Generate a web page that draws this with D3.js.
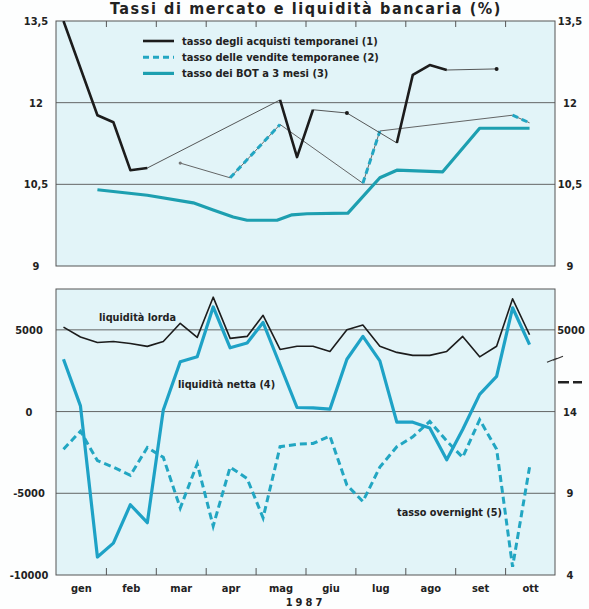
<!DOCTYPE html>
<html><head><meta charset="utf-8">
<script src="https://cdn.jsdelivr.net/npm/d3@7"></script>
<style>
body{margin:0;background:#fdfefe;}
svg{display:block;}
text{font-family:"Liberation Sans Narrow","Arial Narrow","DejaVu Sans Condensed",sans-serif;font-weight:bold;fill:#222;}
</style></head><body>
<svg id="c" width="589" height="609"></svg>
<script>
// ---------- DATA ----------
const title = "Tassi di mercato e liquidità bancaria (%)";
const months = ["gen","feb","mar","apr","mag","giu","lug","ago","set","ott"];
const yearLabel = "1987";

// top panel (rates, %)
const topTicks = [9, 10.5, 12, 13.5];
const topTickLabels = ["9", "10,5", "12", "13,5"];
// x = position in months (0 = 1 Jan), runs = consecutive observations
const acquistiRuns = [
  [[0.15,13.5],[0.83,11.77],[1.15,11.64],[1.49,10.76],[1.83,10.80]],
  [[4.49,12.05],[4.83,11.0],[5.15,11.87]],
  [[5.83,11.81]],
  [[6.83,11.26],[7.15,12.51],[7.49,12.69],[7.83,12.60]],
  [[8.83,12.62]]
];
const venditeRuns = [
  [[2.49,10.89]],
  [[3.49,10.62],[4.49,11.60]],
  [[6.15,10.52],[6.49,11.48]],
  [[9.15,11.77],[9.49,11.63]]
];
const botX = [0.83,1.83,2.75,3.15,3.55,3.83,4.43,4.73,5.03,5.85,6.49,6.83,7.75,8.49,9.49];
const botV = [10.40,10.30,10.16,10.03,9.90,9.84,9.84,9.94,9.96,9.97,10.62,10.76,10.73,11.53,11.53];
const legendLabels = ["tasso degli acquisti temporanei (1)","tasso delle vendite temporanee (2)","tasso dei BOT a 3 mesi (3)"];

// bottom panel (liquidity, billions of lire; overnight rate %)
const periods = [0.15,0.49,0.83,1.15,1.49,1.83,2.15,2.49,2.83,3.15,3.49,3.83,4.15,4.49,4.83,5.15,5.49,5.83,6.15,6.49,6.83,7.15,7.49,7.83,8.15,8.49,8.83,9.15,9.49];
const lorda = [5170,4560,4230,4290,4170,3990,4290,5400,4540,7000,4480,4600,5890,3800,4000,4000,3680,5000,5300,4000,3620,3440,3440,3680,4600,3350,4000,6900,4700];
const netta = [3200,350,-8900,-8050,-5700,-6800,100,3050,3350,6400,3900,4200,5450,2850,250,230,150,3200,4600,3100,-650,-650,-1000,-2950,-1100,1050,2150,6350,4100];
const overnight = [11.7,12.8,11.0,10.6,10.1,11.8,11.2,8.1,10.8,7.0,10.6,9.9,7.5,11.85,12.0,12.05,12.5,9.5,8.5,10.6,11.85,12.45,13.4,12.2,11.2,13.5,11.7,4.5,10.6];
const botLeftTicks = [-10000,-5000,0,5000];
const botLeftLabels = ["-10000","-5000","0","5000"];
const botRightRateTicks = [4,9,14];
const botRightRateLabels = ["4","9","14"];
const annotations = ["liquidità lorda","liquidità netta (4)","tasso overnight (5)"];

// ---------- STYLE ----------
const C = {bg:"#e2f4f8", frame:"#555", grid:"#555", black:"#1c1c1c", thin:"#444",
           tealTop:"#1d9fb0", tealBot:"#1ea2c6", dash:"#22a6c2"};

const svg = d3.select("#c");
const L = 56, R = 555;
const x = d3.scaleLinear().domain([0,10]).range([L,R]);
const yT = d3.scaleLinear().domain([9,13.5]).range([266,21]);
const yB = d3.scaleLinear().domain([-10000,7500]).range([575,289]);
const yRate = d3.scaleLinear().domain([4,21.5]).range([575,289]);

// title
svg.append("text").attr("x",306).attr("y",14).attr("text-anchor","middle")
  .style("font-size","16px").style("letter-spacing","1.6px").text(title);

// panels
function panel(y0,y1,id){
  svg.append("rect").attr("x",L).attr("y",y0).attr("width",R-L).attr("height",y1-y0)
    .attr("fill",C.bg).attr("stroke",C.frame).attr("stroke-width",1);
  svg.append("clipPath").attr("id",id).append("rect")
    .attr("x",L).attr("y",y0).attr("width",R-L).attr("height",y1-y0);
}
panel(21,266,"clipT");
panel(289,575,"clipB");

// gridlines
const gT = svg.append("g");
gT.selectAll("line").data([10.5,12]).join("line")
  .attr("x1",L).attr("x2",R).attr("y1",d=>yT(d)).attr("y2",d=>yT(d))
  .attr("stroke",C.grid).attr("stroke-width",0.9);
const gB = svg.append("g");
gB.selectAll("line").data([-5000,0,5000]).join("line")
  .attr("x1",L).attr("x2",R).attr("y1",d=>yB(d)).attr("y2",d=>yB(d))
  .attr("stroke",C.grid).attr("stroke-width",0.9);

// month ticks
const monthBounds = d3.range(1,10);
svg.append("g").attr("transform",`translate(0,${yT(13.5)})`)
  .call(d3.axisBottom(x).tickValues(monthBounds).tickSize(6).tickFormat(""))
  .call(g=>{g.select(".domain").remove(); g.selectAll("line").attr("stroke",C.frame);});
svg.append("g").attr("transform",`translate(0,${yB(-10000)})`)
  .call(d3.axisTop(x).tickValues(monthBounds).tickSize(7).tickFormat(""))
  .call(g=>{g.select(".domain").remove(); g.selectAll("line").attr("stroke",C.frame);});
// month labels
svg.append("g").attr("transform",`translate(0,${yB(-10000)})`)
  .call(d3.axisBottom(x).tickValues(d3.range(10).map(i=>i+0.5)).tickSize(0).tickPadding(9)
     .tickFormat((d,i)=>months[i]))
  .call(g=>{g.select(".domain").remove(); g.selectAll("text").style("font-size","11px").attr("fill","#222").style("font-family",null);});
svg.append("text").attr("x",x(5)).attr("y",606).attr("text-anchor","middle")
  .style("font-size","11px").style("letter-spacing","3px").text(yearLabel);

// y axes labels
function styleAxis(g,dx,fs){
  g.select(".domain").remove();
  g.selectAll("line").remove();
  g.selectAll("text").attr("text-anchor","middle").attr("x",dx)
   .style("font-size",fs).attr("fill","#222").style("font-family",null);
}
svg.append("g").attr("transform",`translate(${L},0)`)
  .call(d3.axisLeft(yT).tickValues(topTicks).tickFormat((d,i)=>topTickLabels[i]))
  .call(g=>styleAxis(g,-20,"11px"));
svg.append("g").attr("transform",`translate(${R+1},0)`)
  .call(d3.axisRight(yT).tickValues(topTicks).tickFormat((d,i)=>topTickLabels[i]))
  .call(g=>styleAxis(g,14,"11px"));
svg.append("g").attr("transform",`translate(${L},0)`)
  .call(d3.axisLeft(yB).tickValues(botLeftTicks).tickFormat((d,i)=>botLeftLabels[i]))
  .call(g=>styleAxis(g,-27,"11px"));
svg.append("g").attr("transform",`translate(${R+1},0)`)
  .call(d3.axisRight(yB).tickValues([5000]).tickFormat(d=>String(d)))
  .call(g=>styleAxis(g,15,"11px"));
svg.append("g").attr("transform",`translate(${R+1},0)`)
  .call(d3.axisRight(yRate).tickValues(botRightRateTicks).tickFormat((d,i)=>botRightRateLabels[i]))
  .call(g=>styleAxis(g,14,"11px"));

// scale break mark and dashed key on right
const brkY = yB(3200);
svg.append("path").attr("d",`M${R-8},${brkY+3} L${R+2},${brkY-1} M${R-2},${brkY+1} L${R+8},${brkY-3}`)
  .attr("stroke","#333").attr("stroke-width",1.2).attr("fill","none");
svg.append("line").attr("x1",R+3).attr("x2",R+27).attr("y1",yRate(15.8)).attr("y2",yRate(15.8))
  .attr("stroke","#222").attr("stroke-width",2.5).attr("stroke-dasharray","11,4");

// ---------- TOP LINES ----------
const lineT = d3.line().x(d=>x(d[0])).y(d=>yT(d[1]));
const gTop = svg.append("g").attr("clip-path","url(#clipT)");
// BOT
gTop.append("path").datum(botX.map((v,i)=>[v,botV[i]])).attr("d",lineT)
  .attr("fill","none").attr("stroke",C.tealTop).attr("stroke-width",3.2).attr("stroke-linejoin","round");
// vendite: thin connectors + dashed runs
gTop.append("path").datum(venditeRuns.flat()).attr("d",lineT)
  .attr("fill","none").attr("stroke","#555").attr("stroke-width",0.9);
venditeRuns.filter(r=>r.length>1).forEach(r=>{
  gTop.append("path").datum(r).attr("d",lineT).attr("fill","none")
    .attr("stroke",C.dash).attr("stroke-width",3).attr("stroke-dasharray","6,4");
});
venditeRuns.filter(r=>r.length===1).forEach(r=>{
  gTop.append("circle").attr("cx",x(r[0][0])).attr("cy",yT(r[0][1])).attr("r",1.6).attr("fill","#777");
});
// acquisti: thin connectors + thick runs
gTop.append("path").datum(acquistiRuns.flat()).attr("d",lineT)
  .attr("fill","none").attr("stroke",C.thin).attr("stroke-width",0.9);
acquistiRuns.filter(r=>r.length>1).forEach(r=>{
  gTop.append("path").datum(r).attr("d",lineT).attr("fill","none")
    .attr("stroke",C.black).attr("stroke-width",2.6).attr("stroke-linejoin","round");
});
acquistiRuns.filter(r=>r.length===1).forEach(r=>{
  gTop.append("circle").attr("cx",x(r[0][0])).attr("cy",yT(r[0][1])).attr("r",2).attr("fill",C.black);
});

// legend
const lg = svg.append("g");
const legStyles = [
  {stroke:C.black,w:2.6,dash:null},
  {stroke:C.dash,w:3,dash:"6,4"},
  {stroke:C.tealTop,w:3.2,dash:null}
];
legendLabels.forEach((t,i)=>{
  const yy = 41 + i*16.2;
  lg.append("line").attr("x1",143).attr("x2",174).attr("y1",yy).attr("y2",yy)
    .attr("stroke",legStyles[i].stroke).attr("stroke-width",legStyles[i].w)
    .attr("stroke-dasharray",legStyles[i].dash);
  lg.append("text").attr("x",182).attr("y",yy+4).style("font-size","11px").text(t);
});

// ---------- BOTTOM LINES ----------
const gBot = svg.append("g").attr("clip-path","url(#clipB)");
const lineB = d3.line().x((d,i)=>x(periods[i])).y(d=>yB(d));
const lineR = d3.line().x((d,i)=>x(periods[i])).y(d=>yRate(d));
gBot.append("path").datum(overnight).attr("d",lineR).attr("fill","none")
  .attr("stroke",C.dash).attr("stroke-width",3).attr("stroke-dasharray","7,4");
gBot.append("path").datum(lorda).attr("d",lineB).attr("fill","none")
  .attr("stroke",C.black).attr("stroke-width",1.6).attr("stroke-linejoin","round");
gBot.append("path").datum(netta).attr("d",lineB).attr("fill","none")
  .attr("stroke",C.tealBot).attr("stroke-width",3.2).attr("stroke-linejoin","round");

// annotations
svg.append("text").attr("x",99).attr("y",yB(5550)).style("font-size","10.8px").text(annotations[0]);
svg.append("text").attr("x",178).attr("y",yB(1450)).style("font-size","10.8px").text(annotations[1]);
svg.append("text").attr("x",397).attr("y",yRate(7.6)).style("font-size","10.8px").text(annotations[2]);
</script>
</body></html>
